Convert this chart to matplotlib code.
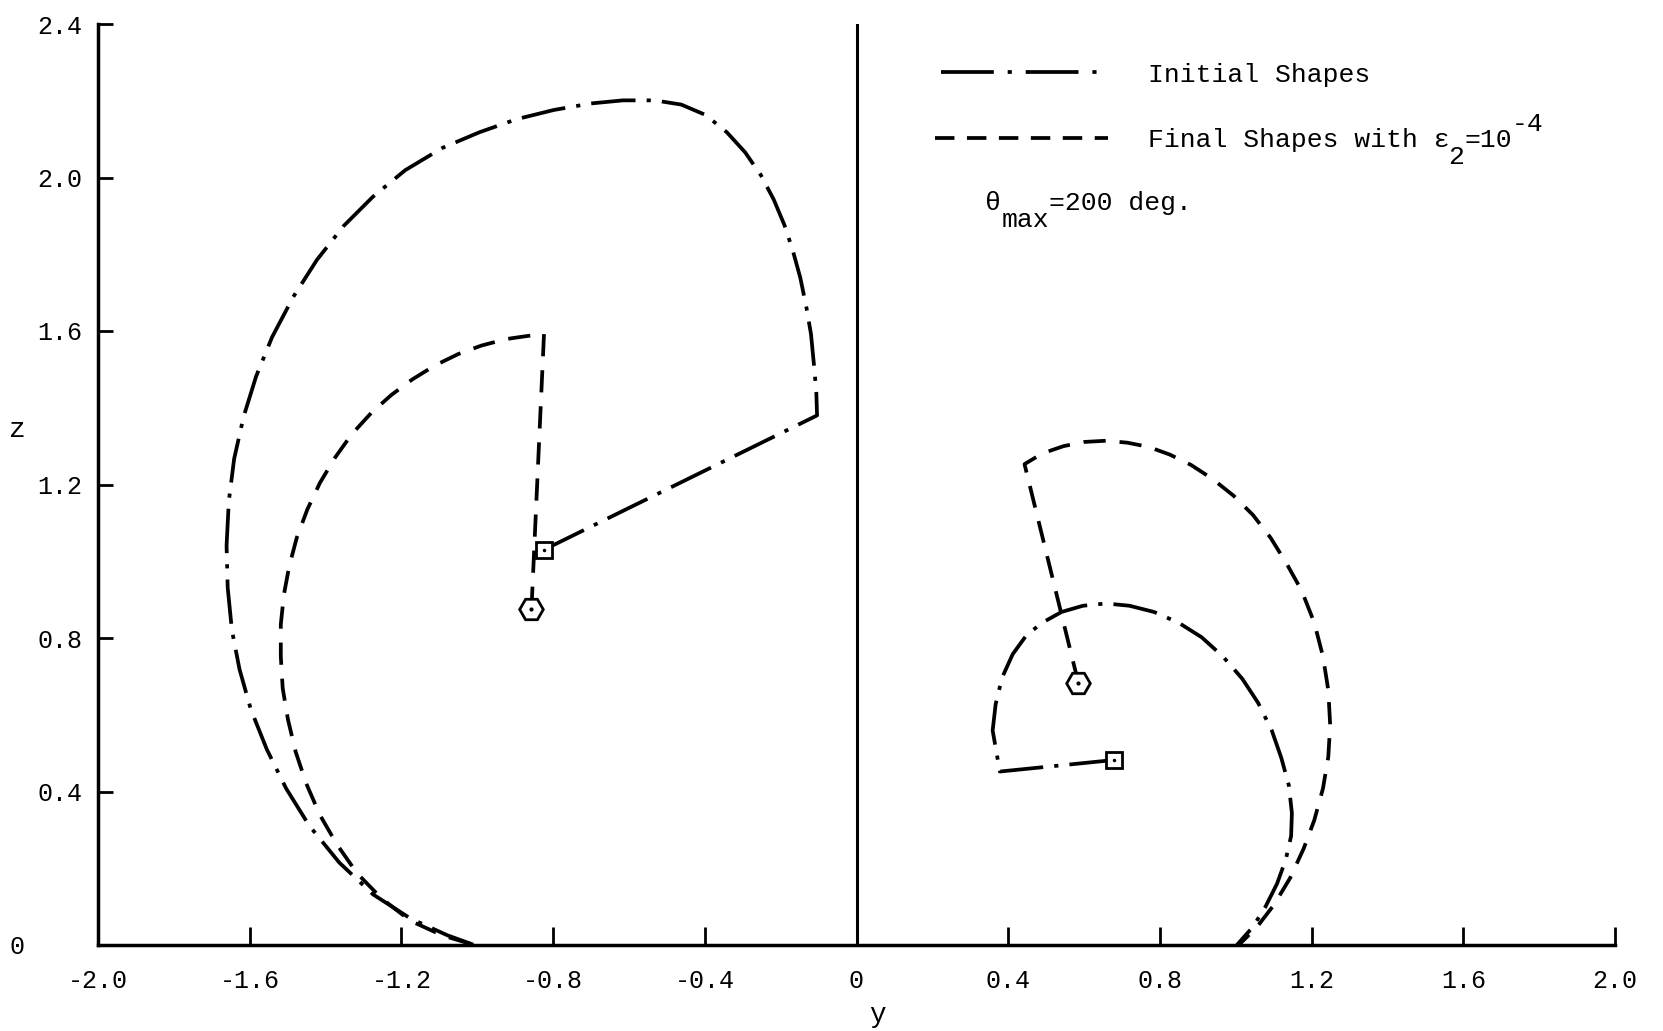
import matplotlib
matplotlib.use("Agg")
import matplotlib.pyplot as plt
import matplotlib.transforms as mtransforms

plt.rcParams['font.family'] = ['Liberation Mono', 'DejaVu Sans Mono']
plt.rcParams['lines.scale_dashes'] = False

# left pair: initial shape starts at the square, final shape at the hexagon
left_init_y = [-0.824, -0.104, -0.106, -0.112, -0.120, -0.132, -0.148, -0.168, -0.190,
               -0.218, -0.252, -0.294, -0.342, -0.398, -0.462, -0.532, -0.616, -0.700,
               -0.798, -0.896, -0.994, -1.092, -1.190, -1.275, -1.353, -1.423, -1.485,
               -1.541, -1.583, -1.616, -1.641, -1.655, -1.661, -1.658, -1.647, -1.627,
               -1.597, -1.555, -1.504, -1.443, -1.364, -1.275, -1.176, -1.078, -1.008]
left_init_z = [1.030, 1.380, 1.441, 1.510, 1.592, 1.661, 1.738, 1.810, 1.876,
               1.942, 2.006, 2.066, 2.118, 2.163, 2.190, 2.201, 2.201, 2.193,
               2.176, 2.152, 2.118, 2.077, 2.019, 1.950, 1.873, 1.785, 1.689,
               1.584, 1.482, 1.377, 1.267, 1.157, 1.041, 0.931, 0.821, 0.719,
               0.614, 0.510, 0.408, 0.311, 0.215, 0.132, 0.069, 0.025, 0.0]

left_final_y = [-0.857, -0.824, -0.868, -0.924, -0.989, -1.050, -1.112, -1.171, -1.227,
                -1.280, -1.331, -1.375, -1.415, -1.448, -1.476, -1.496, -1.510, -1.518,
                -1.518, -1.513, -1.499, -1.479, -1.451, -1.415, -1.370, -1.317, -1.252,
                -1.176, -1.092, -1.008]
left_final_z = [0.876, 1.592, 1.587, 1.579, 1.562, 1.540, 1.510, 1.474, 1.433,
                1.386, 1.331, 1.270, 1.204, 1.135, 1.061, 0.986, 0.912, 0.835,
                0.752, 0.669, 0.587, 0.504, 0.421, 0.339, 0.262, 0.187, 0.121,
                0.063, 0.025, 0.0]

# right pair
right_init_y = [0.678, 0.378, 0.359, 0.367, 0.384, 0.412, 0.448, 0.490, 0.541, 0.597,
                0.658, 0.720, 0.784, 0.849, 0.910, 0.966, 1.017, 1.059, 1.095, 1.120,
                1.140, 1.148, 1.146, 1.132, 1.109, 1.078, 1.045, 1.003]
right_init_z = [0.482, 0.452, 0.559, 0.628, 0.697, 0.758, 0.807, 0.840, 0.868, 0.884,
                0.890, 0.884, 0.868, 0.840, 0.802, 0.752, 0.694, 0.631, 0.559, 0.488,
                0.416, 0.344, 0.284, 0.223, 0.160, 0.099, 0.047, 0.0]

right_final_y = [0.585, 0.443, 0.490, 0.546, 0.602, 0.658, 0.714, 0.770, 0.826, 0.882,
                 0.938, 0.994, 1.045, 1.092, 1.134, 1.174, 1.207, 1.230, 1.244, 1.249,
                 1.244, 1.230, 1.207, 1.179, 1.143, 1.101, 1.056, 1.008]
right_final_z = [0.683, 1.253, 1.281, 1.300, 1.311, 1.314, 1.309, 1.298, 1.278, 1.251,
                 1.215, 1.171, 1.121, 1.061, 0.994, 0.923, 0.840, 0.752, 0.664, 0.573,
                 0.490, 0.408, 0.325, 0.251, 0.174, 0.105, 0.047, 0.0]

x_ticks = [-2.0, -1.6, -1.2, -0.8, -0.4, 0.0, 0.4, 0.8, 1.2, 1.6, 2.0]
x_labels = ['-2.0', '-1.6', '-1.2', '-0.8', '-0.4', '0', '0.4', '0.8', '1.2', '1.6', '2.0']
z_ticks = [0.0, 0.4, 0.8, 1.2, 1.6, 2.0, 2.4]
z_labels = ['0', '0.4', '0.8', '1.2', '1.6', '2.0', '2.4']

dashdot = (0, (32, 8, 3, 8))
dashed = (0, (16, 10))
lw = 2.7

fig = plt.figure(figsize=(16.63, 10.31), dpi=100)
ax = fig.add_axes([98 / 1663, 1 - 945 / 1031, 1517 / 1663, 921 / 1031])

ax.plot(left_init_y, left_init_z, color='k', lw=lw, linestyle=dashdot)
ax.plot(left_final_y, left_final_z, color='k', lw=lw, linestyle=dashed)
ax.plot(right_init_y, right_init_z, color='k', lw=lw, linestyle=dashdot)
ax.plot(right_final_y, right_final_z, color='k', lw=lw, linestyle=dashed)

# start markers: square for initial, hexagon for final
for xs, zs in [(left_init_y, left_init_z), (right_init_y, right_init_z)]:
    ax.plot(xs[0], zs[0], marker='s', ms=11, mfc='white', mec='k', mew=2)
    ax.plot(xs[0], zs[0], marker='.', ms=3, color='k')
for xs, zs in [(left_final_y, left_final_z), (right_final_y, right_final_z)]:
    ax.plot(xs[0], zs[0], marker='H', ms=17, mfc='white', mec='k', mew=2)
    ax.plot(xs[0], zs[0], marker='.', ms=4, color='k')

ax.axvline(0, color='k', lw=2.2)

ax.set_xlim(-2.0, 2.0)
ax.set_ylim(0, 2.4)
for s in ['top', 'right']:
    ax.spines[s].set_visible(False)
for s in ['left', 'bottom']:
    ax.spines[s].set_linewidth(2.5)

ax.set_xticks(x_ticks)
ax.set_xticklabels(x_labels)
ax.set_yticks(z_ticks)
ax.set_yticklabels(z_labels)
ax.tick_params(axis='x', direction='in', length=13, width=2, pad=17, labelsize=18)
ax.tick_params(axis='y', direction='in', length=11, width=2, pad=11, labelsize=18)

# the zero on the z axis sits further out
lab0 = ax.get_yticklabels()[0]
lab0.set_transform(lab0.get_transform() +
                   mtransforms.ScaledTranslation(-58 / 100, 0, fig.dpi_scale_trans))

ax.set_xlabel('y', fontsize=20)
ax.xaxis.set_label_coords(0.514, -0.062)
ax.set_ylabel('z', fontsize=20, rotation=0, ha='center', va='center')
ax.yaxis.set_label_coords(-0.053, 0.559)

# legend drawn by hand, typewriter style (sub/superscripts at full size)
ax.plot([0.556, 0.659], [0.948, 0.948], transform=ax.transAxes, color='k', lw=lw,
        linestyle=(0, (38, 10, 3, 10)), clip_on=False)
ax.plot([0.552, 0.666], [0.876, 0.876], transform=ax.transAxes, color='k', lw=lw,
        linestyle=(0, (14, 9)), clip_on=False)

fs = 19
cw = 0.6 * fs  # monospace advance in points


def type_at(x, y, s, col, dy=0):
    ax.annotate(s, xy=(x, y), xycoords='axes fraction',
                xytext=(col * cw, dy), textcoords='offset points',
                fontsize=fs, va='baseline', ha='left')


type_at(0.692, 0.937, 'Initial Shapes', 0)
type_at(0.692, 0.866, 'Final Shapes with \u03b5', 0)
type_at(0.692, 0.866, '2', 19, -12)
type_at(0.692, 0.866, '=10', 20)
type_at(0.692, 0.866, '-4', 23, 12)
type_at(0.585, 0.798, '\u03b8', 0)
type_at(0.585, 0.798, 'max', 1, -12)
type_at(0.585, 0.798, '=200 deg.', 4)

fig.savefig('out.png', dpi=100)
